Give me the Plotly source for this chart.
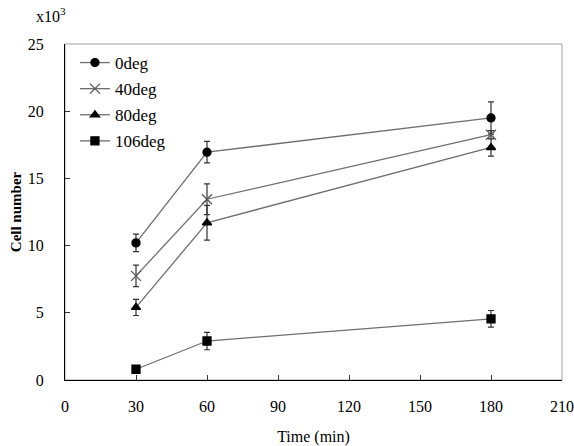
import plotly.graph_objects as go

times = [30, 60, 180]
series_names = ["0deg", "40deg", "80deg", "106deg"]
vals_0 = [10.2, 16.95, 19.5]
err_0 = [0.65, 0.8, 1.2]
vals_40 = [7.75, 13.45, 18.25]
err_40 = [0.8, 1.15, 0.3]
vals_80 = [5.4, 11.7, 17.3]
err_80 = [0.6, 1.3, 0.65]
vals_106 = [0.8, 2.9, 4.55]
err_106 = [0.1, 0.65, 0.62]

x_ticks = [0, 30, 60, 90, 120, 150, 180, 210]
y_ticks = [0, 5, 10, 15, 20, 25]

symbols = ["circle", "x-thin", "triangle-up", "square"]
marker_colors = ["black", "#555555", "black", "black"]
sizes = [8, 10, 8, 8]
all_vals = [vals_0, vals_40, vals_80, vals_106]
all_errs = [err_0, err_40, err_80, err_106]

FONT = "Liberation Serif, Times New Roman, serif"

fig = go.Figure()
for i, name in enumerate(series_names):
    fig.add_trace(go.Scatter(
        x=times, y=all_vals[i], name=name, mode="lines+markers",
        legendgroup=name,
        line=dict(color="#6e6e6e", width=1.3),
        marker=dict(symbol=symbols[i], size=sizes[i], color=marker_colors[i],
                    line=dict(color=marker_colors[i], width=1.3)),
        error_y=dict(type="data", array=all_errs[i], visible=True,
                     color="#333333", thickness=1.2, width=3),
    ))

fig.add_shape(type="rect", xref="paper", yref="paper", x0=0, y0=0, x1=1, y1=1,
              line=dict(color="#a0a0a0", width=1), layer="below")

fig.update_layout(
    width=574, height=446,
    margin=dict(l=65, r=12, t=44, b=66, autoexpand=False),
    plot_bgcolor="white", paper_bgcolor="white",
    font=dict(family=FONT, size=16, color="black"),
    showlegend=True,
    legend=dict(x=0.02, y=0.997, xanchor="left", yanchor="top",
                bgcolor="rgba(0,0,0,0)", traceorder="grouped",
                tracegroupgap=1, font=dict(size=17, family=FONT)),
    xaxis=dict(range=[0, 210], tickvals=x_ticks, ticks="inside", ticklen=5,
               tickcolor="#333333", showline=True, linecolor="black", linewidth=1,
               showgrid=False, zeroline=False, automargin=False,
               ticklabelstandoff=12,
               title=dict(text="Time (min)", font=dict(size=16, family=FONT), standoff=16),
               tickfont=dict(size=16, family=FONT)),
    yaxis=dict(range=[0, 25], tickvals=y_ticks, ticks="inside", ticklen=5,
               tickcolor="#333333", showline=True, linecolor="black", linewidth=1,
               showgrid=False, zeroline=False, automargin=False,
               ticklabelstandoff=17,
               title=dict(text="<b>Cell number</b>", font=dict(size=15, family=FONT), standoff=2),
               tickfont=dict(size=16, family=FONT)),
    annotations=[dict(text="x10<sup>3</sup>", xref="paper", yref="paper",
                      x=-0.062, y=1.05, xanchor="left", yanchor="bottom",
                      showarrow=False, font=dict(size=16, family=FONT))],
)

fig.write_html("out.html")
